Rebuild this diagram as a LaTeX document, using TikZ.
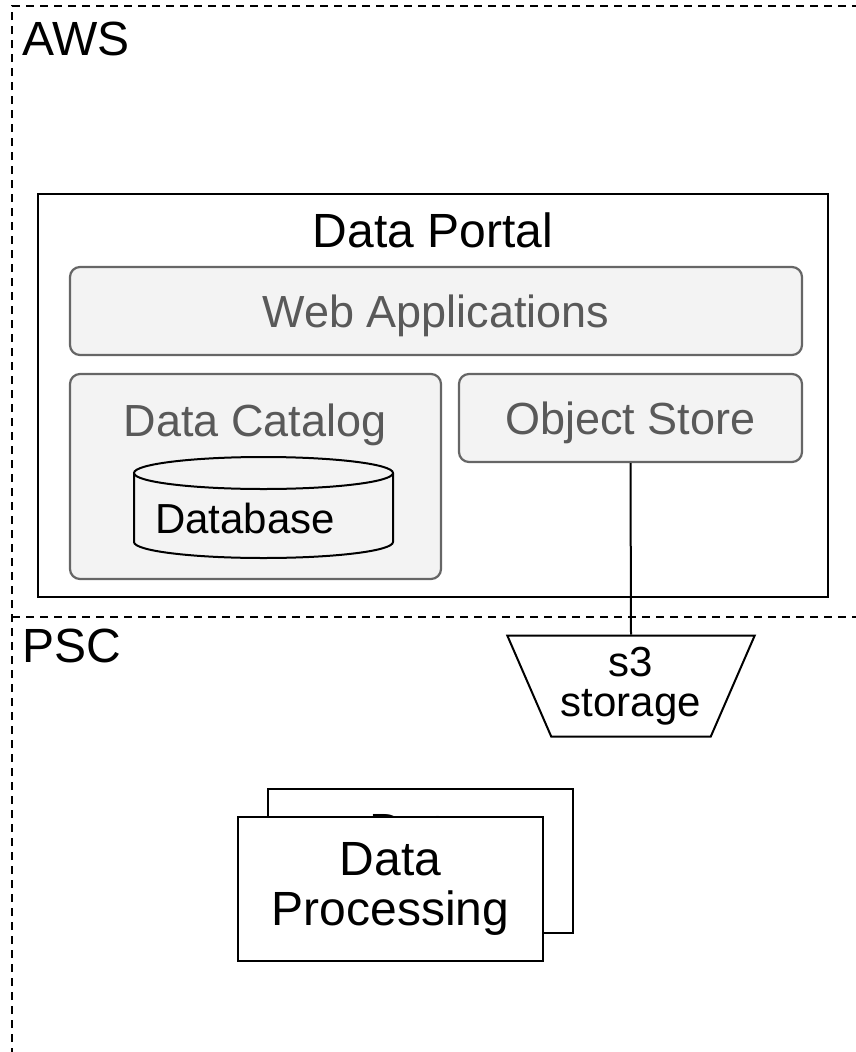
\documentclass[tikz,border=0pt]{standalone}
\usepackage{fontspec}
\setmainfont{Liberation Sans}
\usepackage{tikz}
\usetikzlibrary{shapes.geometric}
\definecolor{boxfill}{HTML}{F3F3F3}
\definecolor{boxline}{HTML}{666666}
\definecolor{boxtext}{HTML}{595959}
\newcommand{\titlefont}{\fontsize{48}{50}\selectfont}
\newcommand{\boxfont}{\fontsize{45}{50}\selectfont}
\newcommand{\smallfont}{\fontsize{42}{40}\selectfont}
\tikzset{
  region/.style={dashed, dash pattern=on 8pt off 6pt, line width=1.3pt},
  greybox/.style={draw=boxline, fill=boxfill, line width=2.2pt, rounded corners=10pt,
    text=boxtext, font=\boxfont, text height=32pt, text depth=0pt, inner sep=0pt},
  plainbox/.style={draw, fill=white, line width=2pt, inner sep=0pt},
  lbl/.style={inner sep=0pt, anchor=base}
}
\begin{document}
\begin{tikzpicture}[x=1pt,y=-1pt]
\useasboundingbox (0,0) rectangle (856,1052);
\clip (0,0) rectangle (856,1052);
\draw[region] (12,1070) -- (12,6) -- (880,6);
\draw[region] (12,617) -- (880,617);
\node[lbl, anchor=base west] (aws) at (22,55) {\titlefont AWS};
\node[lbl, anchor=base west] (psc) at (22,662) {\titlefont PSC};

\node[draw, line width=1.8pt, minimum width=790, minimum height=403, inner sep=0pt] (portal) at (433,395.5) {};
\node[lbl] (portaltext) at (433,247) {\titlefont Data Portal};
\node[greybox, minimum width=732, minimum height=88] (webapps) at (436,311) {Web Applications};
\node[greybox, minimum width=371, minimum height=205] (catalog) at (255.5,476.5) {};
\node[lbl, text=boxtext] (catalogtext) at (255,436) {\boxfont Data Catalog};
\node[greybox, minimum width=343, minimum height=88] (objstore) at (630.5,418) {Object Store};

\draw[line width=2pt, fill=boxfill] (134,473) -- (134,542) arc[start angle=180, end angle=360, x radius=129.5pt, y radius=16pt] -- (393,473);
\draw[line width=2pt] (263.5,473) ellipse[x radius=129.5pt, y radius=16pt];
\node[lbl, anchor=base west] (database) at (155,533) {\smallfont Database};

\node[plainbox, trapezium, shape border rotate=180, trapezium stretches=true,
  trapezium left angle=63.7, trapezium right angle=63.7,
  minimum width=248, minimum height=101, align=center, font=\smallfont] (s3) at (631,686) {s3\\storage};
\draw[line width=2pt] (objstore.south) -- (s3.bottom side);

\node[plainbox, minimum width=305, minimum height=144, align=center, font=\titlefont] (procback) at (420.5,861) {Data\\Processing};
\node[plainbox, minimum width=305, minimum height=144, align=center, font=\titlefont] (proc) at (390.5,888.5) {Data\\Processing};
\end{tikzpicture}
\end{document}
